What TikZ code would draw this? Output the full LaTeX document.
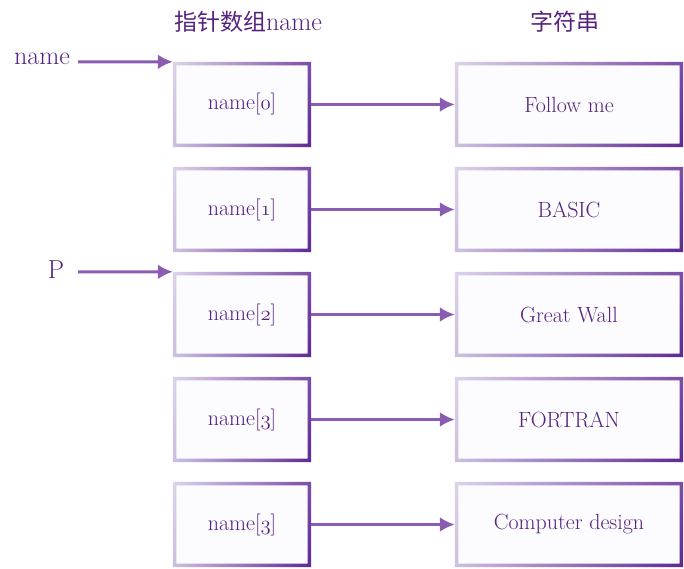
\documentclass[tikz,border=0pt]{standalone}
\usepackage{fontspec}
\usetikzlibrary{arrows.meta,shadings}
\newfontfamily\cjk{Noto Sans CJK SC}
\newcommand\osn[1]{{\usefont{OML}{cmm}{m}{it}#1}}
\definecolor{txt}{HTML}{55237F}
\definecolor{arr}{HTML}{8A5DB3}
\definecolor{bfill}{HTML}{FCFBFD}
\definecolor{cUL}{HTML}{DDD3EA}
\definecolor{cLL}{HTML}{CDC0DF}
\definecolor{cUR}{HTML}{7C4DA8}
\definecolor{cLR}{HTML}{5E2894}
\begin{document}
\begin{tikzpicture}[x=1pt,y=-1pt,
  cell/.style={minimum width=138pt,minimum height=85pt,inner sep=0pt,fill=bfill,text=txt,font=\fontsize{22}{26}\selectfont},
  strbox/.style={cell,minimum width=228pt},
  border/.style={upper left=cUL,lower left=cLL,upper right=cUR,lower right=cLR,even odd rule},
  link/.style={line width=3pt,draw=arr,-{Latex[length=15pt,width=15pt]}},
  lbl/.style={text=txt,font=\fontsize{26}{30}\selectfont}]
\useasboundingbox (0,0) rectangle (684,569);
\foreach \i/\y/\t/\s in {0/104.5/0/Follow me,1/209.5/1/BASIC,2/314.5/2/Great Wall,3/419.5/3/FORTRAN,4/524.5/3/Computer design}{
  \node[cell] (a\i) at (242,\y) {name[\osn{\t}]};
  \node[strbox] (s\i) at (569,\y) {\s};
  \shade[border]
    (a\i.north west) rectangle (a\i.south east)
    ([shift={(3.5pt,-3.5pt)}]a\i.north west) rectangle ([shift={(-3.5pt,3.5pt)}]a\i.south east);
  \shade[border]
    (s\i.north west) rectangle (s\i.south east)
    ([shift={(3.5pt,-3.5pt)}]s\i.north west) rectangle ([shift={(-3.5pt,3.5pt)}]s\i.south east);
  \draw[link] (a\i.east) -- (s\i.west);
}
\node[lbl] (t1) at (248,22) {{\cjk\fontsize{23}{26}\selectfont 指针数组}name};
\node[lbl,font=\cjk\fontsize{23}{26}\selectfont] (t2) at (565,22) {字符串};
\node[lbl] (pn) at (42,59) {name};
\node[lbl] (pp) at (56,270) {P};
\coordinate (pn0) at (78,62);
\coordinate (pp0) at (78,272);
\draw[link] (pn0) -- (a0.north west);
\draw[link] (pp0) -- (a2.north west);
\end{tikzpicture}
\end{document}
